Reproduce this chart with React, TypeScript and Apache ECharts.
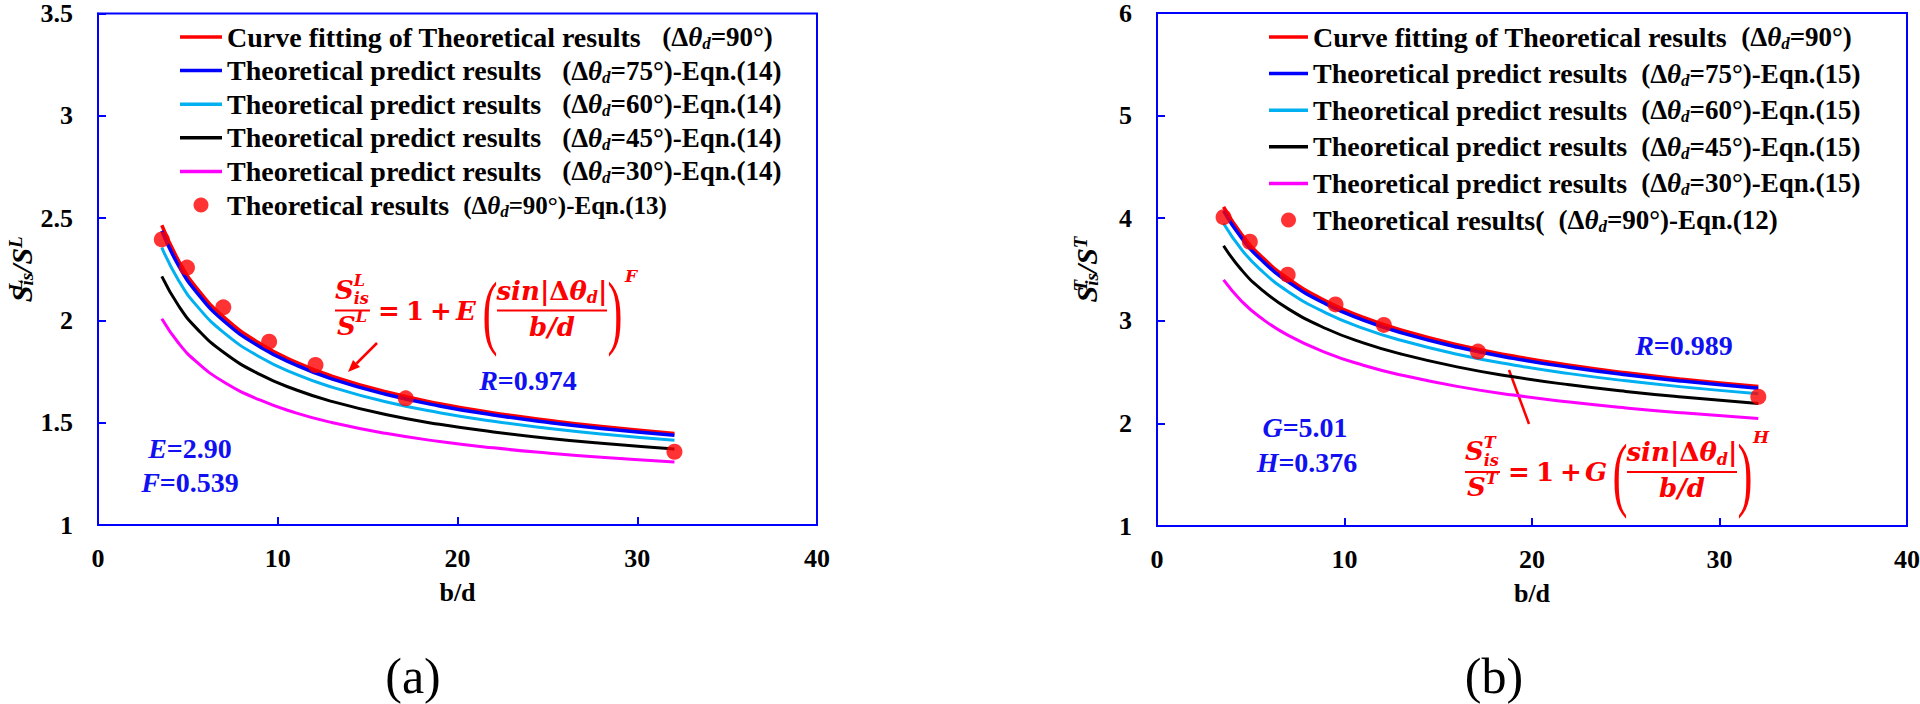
import React, { useEffect, useRef } from 'react';
import * as echarts from 'echarts';

// ---------- data ----------
const bdCurve = [3.55, 4.5, 5.5, 7, 9, 11, 13, 16, 19, 22, 25, 28, 32.07];
const aFit90 = [2.465, 2.289, 2.157, 2.016, 1.887, 1.796, 1.728, 1.651, 1.593, 1.548, 1.512, 1.481, 1.447];
const aPred75 = [2.438, 2.265, 2.136, 1.997, 1.871, 1.782, 1.714, 1.639, 1.582, 1.538, 1.502, 1.472, 1.439];
const aPred60 = [2.356, 2.193, 2.071, 1.94, 1.821, 1.737, 1.674, 1.602, 1.549, 1.507, 1.473, 1.445, 1.414];
const aPred45 = [2.215, 2.069, 1.96, 1.843, 1.736, 1.661, 1.604, 1.54, 1.492, 1.455, 1.424, 1.399, 1.371];
const aPred30 = [2.008, 1.887, 1.796, 1.699, 1.611, 1.548, 1.501, 1.448, 1.408, 1.377, 1.352, 1.331, 1.308];
const bFit90 = [4.111, 3.846, 3.639, 3.41, 3.193, 3.034, 2.91, 2.767, 2.656, 2.567, 2.493, 2.431, 2.36];
const bPred75 = [4.071, 3.809, 3.605, 3.379, 3.164, 3.007, 2.885, 2.744, 2.634, 2.547, 2.474, 2.413, 2.343];
const bPred60 = [3.948, 3.697, 3.501, 3.284, 3.078, 2.927, 2.81, 2.674, 2.569, 2.485, 2.415, 2.356, 2.289];
const bPred45 = [3.731, 3.498, 3.317, 3.116, 2.925, 2.785, 2.677, 2.551, 2.454, 2.376, 2.311, 2.257, 2.194];
const bPred30 = [3.398, 3.193, 3.034, 2.858, 2.69, 2.567, 2.472, 2.361, 2.276, 2.208, 2.151, 2.103, 2.048];
const bdPoints = [3.55, 4.95, 6.97, 9.52, 12.1, 17.12, 32.07];
const aTheory = [2.396, 2.258, 2.064, 1.896, 1.782, 1.619, 1.358];
const bTheory = [4.01, 3.77, 3.45, 3.16, 2.96, 2.7, 2.26];

const legendMainA = [
  'Curve fitting of Theoretical results',
  'Theoretical predict results',
  'Theoretical predict results',
  'Theoretical predict results',
  'Theoretical predict results',
  'Theoretical results',
];
const legendMainB = [
  'Curve fitting of Theoretical results',
  'Theoretical predict results',
  'Theoretical predict results',
  'Theoretical predict results',
  'Theoretical predict results',
  'Theoretical results(',
];
const legendAngles = ['90', '75', '60', '45', '30', '90'];
const legendEqnA = ['', '14', '14', '14', '14', '13'];
const legendEqnB = ['', '15', '15', '15', '15', '12'];

const xTicks = { min: 0, max: 40, interval: 10 };
const yTicksA = { min: 1, max: 3.5, interval: 0.5 };
const yTicksB = { min: 1, max: 6, interval: 1 };

// ---------- styles ----------
const SERIF = 'Liberation Serif';
const MATH = 'DejaVu Serif';
const AX = '#0000FF';
const RED = '#FF0000';
const LABEL_BLUE = '#1010F0';
const colors = ['#FF0000', '#0000FF', '#00B0F0', '#000000', '#FF00FF'];
const widths = [3.5, 3.5, 3, 3, 3];

const itemName = (panel: string, main: string, angle: string, eqn: string) =>
  `${panel} ${main} (Δθd=${angle}°)${eqn ? `-Eqn.(${eqn})` : ''}`;

const namesA = legendMainA.map((m, i) => itemName('(a)', m, legendAngles[i], legendEqnA[i]));
const namesB = legendMainB.map((m, i) => itemName('(b)', m, legendAngles[i], legendEqnB[i]));

const legendRich: any = {
  m: { fontFamily: SERIF, fontWeight: 'bold', fontSize: 28, lineHeight: 30, color: '#000' },
  p: { fontFamily: SERIF, fontWeight: 'bold', fontSize: 27, lineHeight: 30, color: '#000' },
  t: { fontFamily: SERIF, fontWeight: 'bold', fontStyle: 'italic', fontSize: 27, lineHeight: 30, color: '#000' },
  s: { fontFamily: SERIF, fontWeight: 'bold', fontStyle: 'italic', fontSize: 17, lineHeight: 10, verticalAlign: 'bottom', color: '#000' },
  q: { fontFamily: SERIF, fontWeight: 'bold', fontSize: 25, lineHeight: 30, color: '#000' },
  qt: { fontFamily: SERIF, fontWeight: 'bold', fontStyle: 'italic', fontSize: 25, lineHeight: 30, color: '#000' },
};

const legendText = (mains: string[], eqns: string[], gaps: string[], small: boolean[]) => (i: number) => {
  const p = small[i] ? 'q' : 'p';
  const t = small[i] ? 'qt' : 't';
  const eqn = eqns[i] ? `-Eqn.(${eqns[i]})` : '';
  return `{m|${mains[i]}${gaps[i]}}{${p}|(Δ}{${t}|θ}{s|d}{${p}|=${legendAngles[i]}°)${eqn}}`;
};
const richA = legendText(legendMainA, legendEqnA, ['   ', '   ', '   ', '   ', '   ', '  '], [false, false, false, false, false, true]);
const richB = legendText(legendMainB, legendEqnB, ['  ', '  ', '  ', '  ', '  ', '  '], [false, false, false, false, false, false]);

const tickLabel = { color: '#000', fontFamily: SERIF, fontWeight: 'bold', fontSize: 26 };

function xAxisFor(gridIndex: number) {
  return {
    type: 'value', gridIndex, ...xTicks,
    name: 'b/d', nameLocation: 'middle', nameGap: 54,
    nameTextStyle: { color: '#000', fontFamily: SERIF, fontWeight: 'bold', fontSize: 26 },
    axisLine: { show: true, onZero: false, lineStyle: { color: AX, width: 2 } },
    axisTick: { show: true, inside: true, length: 8, lineStyle: { color: AX, width: 2 } },
    axisLabel: { ...tickLabel, margin: 20 },
    splitLine: { show: false },
  };
}

function yAxisFor(gridIndex: number, ticks: any, sym: string, gap: number) {
  const base = { fontFamily: SERIF, fontWeight: 'bold', fontStyle: 'italic', color: '#000' };
  return {
    type: 'value', gridIndex, ...ticks,
    name: `{S|S}{sup|${sym}}{sub|is}{n|/}{S|S}{sup2|${sym}}`,
    nameLocation: 'middle', nameGap: gap,
    nameTextStyle: {
      ...base, fontSize: 30,
      rich: {
        S: { ...base, fontSize: 30, lineHeight: 30 },
        n: { ...base, fontSize: 30, lineHeight: 30 },
        sup: { ...base, fontSize: 19, lineHeight: 18, verticalAlign: 'top', width: 0 },
        sup2: { ...base, fontSize: 19, lineHeight: 18, verticalAlign: 'top' },
        sub: { ...base, fontSize: 19, lineHeight: 12, verticalAlign: 'bottom' },
      },
    },
    axisLine: { show: true, onZero: false, lineStyle: { color: AX, width: 2 } },
    axisTick: { show: true, inside: true, length: 8, lineStyle: { color: AX, width: 2 } },
    axisLabel: { ...tickLabel, margin: 25 },
    splitLine: { show: false },
  };
}

function lineSeries(name: string, grid: number, ys: number[], k: number) {
  return {
    name, type: 'line', xAxisIndex: grid, yAxisIndex: grid,
    data: bdCurve.map((x, i) => [x, ys[i]]),
    smooth: true, symbol: 'none', color: colors[k],
    lineStyle: { color: colors[k], width: widths[k] },
    z: 2,
  };
}

function dotSeries(name: string, grid: number, ys: number[]) {
  return {
    name, type: 'scatter', xAxisIndex: grid, yAxisIndex: grid,
    data: bdPoints.map((x, i) => [x, ys[i]]),
    symbol: 'circle', symbolSize: 16, color: RED, itemStyle: { color: RED }, z: 5,
  };
}

function legendFor(names: string[], left: number, itemWidth: number, gap: number, rich: (i: number) => string) {
  return {
    orient: 'vertical', left, top: 23, padding: 0,
    itemWidth, itemHeight: 15, itemGap: gap, selectedMode: false,
    data: names.map((n, i) => ({ name: n, icon: i < 5 ? `path://M0 0H${itemWidth}V3.5H0Z` : 'circle' })),
    formatter: (name: string) => rich(names.indexOf(name)),
    textStyle: { color: '#000', fontFamily: SERIF, fontWeight: 'bold', fontSize: 28, rich: legendRich },
  };
}

// ---------- graphic helpers (annotations) ----------
const mathRich: any = {
  S: { fontFamily: MATH, fontWeight: 'bold', fontStyle: 'italic', fontSize: 26, lineHeight: 34, fill: RED },
  sup: { fontFamily: MATH, fontWeight: 'bold', fontStyle: 'italic', fontSize: 16, lineHeight: 22, verticalAlign: 'top', width: 0, fill: RED },
  sup2: { fontFamily: MATH, fontWeight: 'bold', fontStyle: 'italic', fontSize: 16, lineHeight: 22, verticalAlign: 'top', fill: RED },
  sub: { fontFamily: MATH, fontWeight: 'bold', fontStyle: 'italic', fontSize: 16, lineHeight: 17, verticalAlign: 'bottom', fill: RED },
  i: { fontFamily: MATH, fontWeight: 'bold', fontStyle: 'italic', fontSize: 26, lineHeight: 30, fill: RED },
  u: { fontFamily: MATH, fontWeight: 'bold', fontSize: 26, lineHeight: 30, fill: RED },
  d: { fontFamily: MATH, fontWeight: 'bold', fontStyle: 'italic', fontSize: 16, lineHeight: 12, verticalAlign: 'bottom', fill: RED },
};

function rtext(x: number, y: number, text: string, rich: any, align = 'left') {
  return { type: 'text', x, y, silent: true, style: { text, rich, align, verticalAlign: 'middle' } };
}
function ptext(x: number, y: number, text: string, font: any) {
  return { type: 'text', x, y, silent: true, style: { text, align: 'center', verticalAlign: 'middle', fill: RED, ...font } };
}
function seg(x1: number, y1: number, x2: number, y2: number, w = 2) {
  return { type: 'line', silent: true, shape: { x1, y1, x2, y2 }, style: { stroke: RED, lineWidth: w } };
}

function formula(x0: number, yb: number, sym: string, coef: string, expo: string) {
  const upright = { fontFamily: MATH, fontWeight: 'bold', fontSize: 26 };
  const ital = { fontFamily: MATH, fontWeight: 'bold', fontStyle: 'italic', fontSize: 26 };
  const paren = (x: number, ch: string) => ({
    type: 'text', x, y: yb + 1, scaleX: 0.55, silent: true,
    style: { text: ch, align: 'center', verticalAlign: 'middle', fill: RED, fontFamily: SERIF, fontSize: 82 },
  });
  return [
    rtext(x0, yb - 21, `{S|S}{sup|${sym}}{sub|is}`, mathRich),
    seg(x0, yb, x0 + 35, yb),
    rtext(x0 + 2, yb + 15, `{S|S}{sup2|${sym}}`, mathRich),
    ptext(x0 + 54, yb, '=', upright),
    ptext(x0 + 80, yb, '1', upright),
    ptext(x0 + 106, yb, '+', upright),
    ptext(x0 + 131, yb, coef, ital),
    paren(x0 + 155, '('),
    rtext(x0 + 217, yb - 20, '{i|sin|}{u|Δ}{i|θ}{d|d}{i||}', mathRich, 'center'),
    seg(x0 + 162, yb, x0 + 272, yb),
    rtext(x0 + 217, yb + 16, '{i|b/d}', mathRich, 'center'),
    paren(x0 + 280, ')'),
    ptext(x0 + 296, yb - 35, expo, { fontFamily: MATH, fontWeight: 'bold', fontStyle: 'italic', fontSize: 17 }),
  ];
}

const blueRich: any = {
  i: { fontFamily: SERIF, fontWeight: 'bold', fontStyle: 'italic', fontSize: 28, fill: LABEL_BLUE },
  n: { fontFamily: SERIF, fontWeight: 'bold', fontSize: 28, fill: LABEL_BLUE },
};
const param = (x: number, y: number, letter: string, value: string) =>
  rtext(x, y, `{i|${letter}}{n|=${value}}`, blueRich, 'center');

const fontFix = `
#chart-root svg text { font-family: 'Liberation Serif', serif !important; }
#chart-root svg text[style*="DejaVu"] { font-family: 'DejaVu Serif', serif !important; }
`;

export default function App() {
  const ref = useRef<HTMLDivElement>(null);
  useEffect(() => {
    if (!ref.current) return;
    const chart = echarts.init(ref.current, null, { renderer: 'svg' });
    const gridBase = { show: true, borderColor: AX, borderWidth: 2, containLabel: false, outerBoundsMode: 'none' };
    const option: any = {
      animation: false,
      backgroundColor: '#fff',
      textStyle: { fontFamily: SERIF },
      grid: [
        { ...gridBase, left: 98, right: 1103, top: 13.5, bottom: 179 },
        { ...gridBase, left: 1157, right: 13, top: 13, bottom: 178 },
      ],
      xAxis: [xAxisFor(0), xAxisFor(1)],
      yAxis: [yAxisFor(0, yTicksA, 'L', 62), yAxisFor(1, yTicksB, 'T', 56)],
      legend: [
        legendFor(namesA, 180, 42, 4.6, richA),
        legendFor(namesB, 1269, 39, 7.6, richB),
      ],
      series: [
        lineSeries(namesA[0], 0, aFit90, 0),
        lineSeries(namesA[1], 0, aPred75, 1),
        lineSeries(namesA[2], 0, aPred60, 2),
        lineSeries(namesA[3], 0, aPred45, 3),
        lineSeries(namesA[4], 0, aPred30, 4),
        dotSeries(namesA[5], 0, aTheory),
        lineSeries(namesB[0], 1, bFit90, 0),
        lineSeries(namesB[1], 1, bPred75, 1),
        lineSeries(namesB[2], 1, bPred60, 2),
        lineSeries(namesB[3], 1, bPred45, 3),
        lineSeries(namesB[4], 1, bPred30, 4),
        dotSeries(namesB[5], 1, bTheory),
      ],
      graphic: [
        ...formula(335, 310.5, 'L', 'E', 'F'),
        seg(377, 343, 356.5, 363.5, 2.5),
        { type: 'polygon', silent: true, shape: { points: [[348, 372], [360, 367], [353, 360]] }, style: { fill: RED } },
        ...formula(1465, 472, 'T', 'G', 'H'),
        seg(1509, 370, 1529, 424, 2.5),
        param(528, 380, 'R', '0.974'),
        param(190, 448, 'E', '2.90'),
        param(190, 482, 'F', '0.539'),
        param(1684, 345, 'R', '0.989'),
        param(1305, 427, 'G', '5.01'),
        param(1307, 462, 'H', '0.376'),
        { type: 'text', x: 413, y: 676, silent: true, style: { text: '(a)', align: 'center', verticalAlign: 'middle', fill: '#000', fontFamily: SERIF, fontSize: 50 } },
        { type: 'text', x: 1494, y: 676, silent: true, style: { text: '(b)', align: 'center', verticalAlign: 'middle', fill: '#000', fontFamily: SERIF, fontSize: 50 } },
      ],
    };
    chart.setOption(option);
    return () => chart.dispose();
  }, []);
  return (
    <div id="chart-root">
      <style>{fontFix}</style>
      <div ref={ref} style={{ position: 'fixed', left: 0, top: 0, width: 1920, height: 704, background: '#fff' }} />
    </div>
  );
}
